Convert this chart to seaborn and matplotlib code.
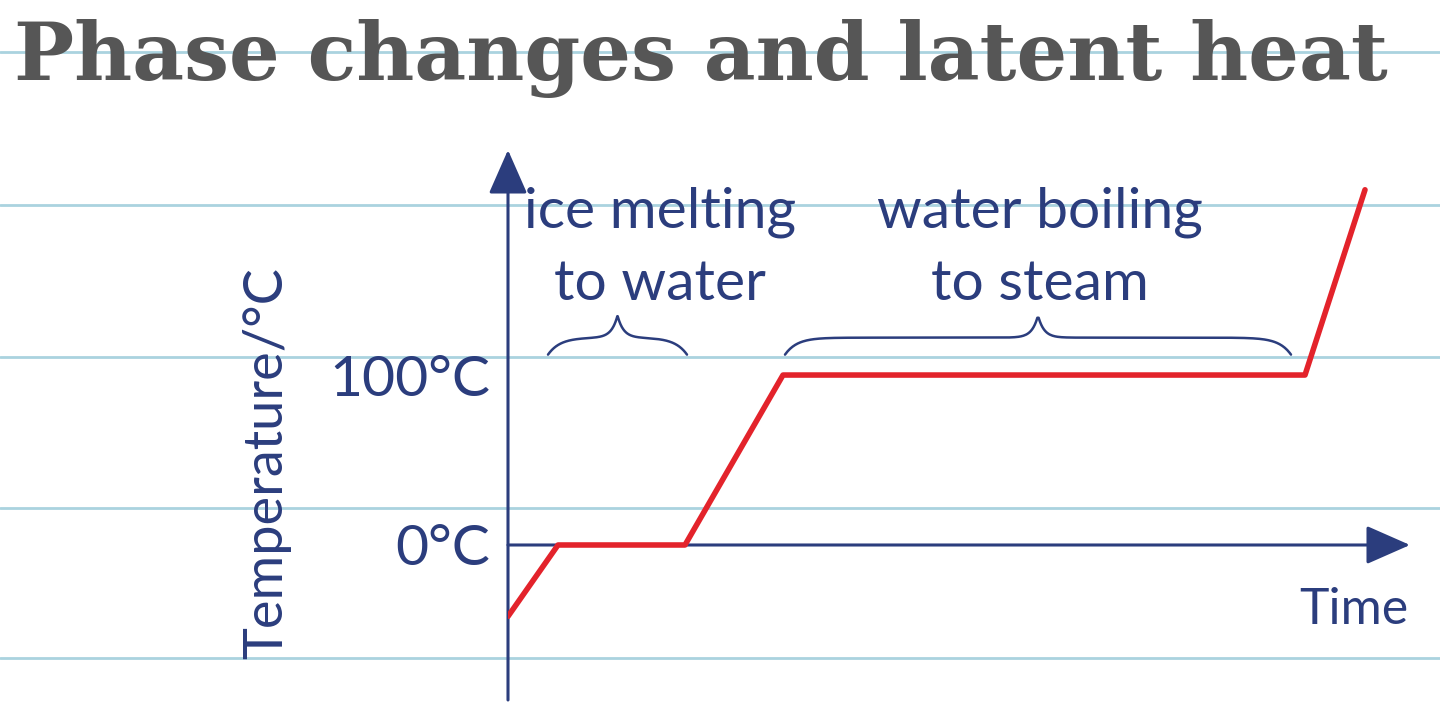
import numpy as np
import pandas as pd
import matplotlib
matplotlib.use("Agg")
import matplotlib.pyplot as plt
import seaborn as sns

# Heating curve of water: time (arbitrary units) vs temperature (°C)
TIME = [0, 5, 17.7, 27.5, 79.7, 85.7]
TEMP = [-42, 0, 0, 100, 100, 209]

YTICKS = [0, 100]
YTICK_LABELS = ["0°C", "100°C"]

# phase-change plateaus (start, end) and their captions
PHASE_LABELS = ["ice melting\nto water", "water boiling\nto steam"]
PHASE_SPANS = [(4.0, 17.9), (27.7, 78.3)]
LABEL_X = [15.2, 53.2]

TITLE = "Phase changes and latent heat"

NAVY = "#2b3d7d"
RED = "#e3232b"
RULE = "#aad3df"

sns.set_theme(style="white")
plt.rcParams["font.family"] = ["Lato", "DejaVu Sans"]

W, H = 1440, 706
fig = plt.figure(figsize=(W / 100, H / 100), dpi=100)
fig.patch.set_facecolor("white")

# ruled notebook paper in the background (pixel coords)
bg = fig.add_axes([0, 0, 1, 1], zorder=-1)
bg.set_xlim(0, W)
bg.set_ylim(H, 0)
bg.axis("off")
for ry in [52, 205, 357, 508, 658]:
    bg.axhline(ry, color=RULE, lw=2.0)

# main plot area: left spine at x=508px, bottom 700px, top 150px
ax = fig.add_axes([508 / W, 6 / H, 902 / W, 550 / H])
ax.set_facecolor("none")
ax.set_xlim(0, 90.2)
ax.set_ylim(-91.2, 232.4)
sns.despine(ax=ax, left=True, bottom=True)

df = pd.DataFrame({"time": TIME, "temp": TEMP})
sns.lineplot(data=df, x="time", y="temp", ax=ax, color=RED, lw=4,
             sort=False, estimator=None, zorder=4)

arrow = dict(arrowstyle="-|>,head_length=0.5,head_width=0.22", color=NAVY,
             lw=2.2, mutation_scale=55, shrinkA=0, shrinkB=0)
ax.annotate("", xy=(0, 1), xytext=(0, 0), xycoords="axes fraction",
            arrowprops=arrow, zorder=3)
ax.annotate("", xy=(1, 0), xytext=(0, 0), xycoords=("axes fraction", "data"),
            arrowprops=arrow, zorder=3)

ax.set_xticks([])
ax.set_xlabel("")
ax.set_yticks(YTICKS, YTICK_LABELS)
ax.tick_params(axis="y", length=0, pad=13, labelsize=41, labelcolor=NAVY)
ax.set_ylabel("Temperature/°C", fontsize=39, color=NAVY, va="center")
ax.yaxis.set_label_coords(-0.268, 0.43)

ax.annotate("Time", xy=(0.998, 0), xycoords=("axes fraction", "data"),
            xytext=(0, -30), textcoords="offset points",
            ha="right", va="top", fontsize=36, color=NAVY)


def brace(ax, x0, x1, y0):
    x = np.linspace(x0, x1, 400)
    d_end = np.minimum(x - x0, x1 - x)
    d_mid = np.abs(x - (x0 + x1) / 2)
    y = y0 + 10 * (1 - np.exp(-d_end / 1.2)) + 13 * np.exp(-d_mid / 0.6)
    ax.plot(x, y, color=NAVY, lw=1.8)


for label, (a, b), lx in zip(PHASE_LABELS, PHASE_SPANS, LABEL_X):
    brace(ax, a, b, 112)
    ax.text(lx, 174.5, label, ha="center", va="center", fontsize=41,
            color=NAVY, linespacing=1.5, multialignment="center")

fig.text(14 / W, 1 - 58 / H, TITLE, ha="left", va="center", fontsize=57.5,
         family="DejaVu Serif", weight="bold", color="#565656")

fig.savefig("out.png", dpi=100)
